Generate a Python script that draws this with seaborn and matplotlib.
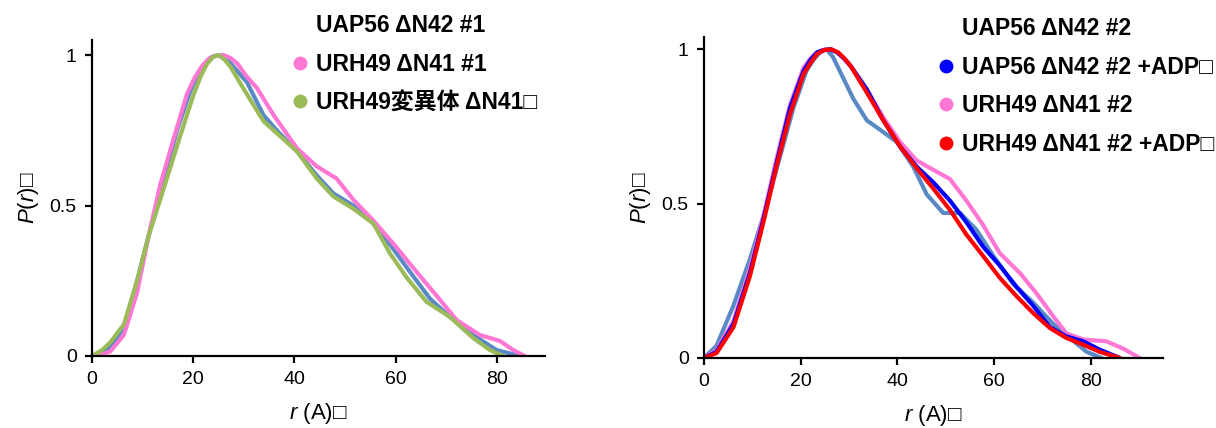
import numpy as np
import pandas as pd
import seaborn as sns
import matplotlib.pyplot as plt
from matplotlib.lines import Line2D

# Left panel: P(r) curves
left_blue_r = [0, 2, 3.6, 6.3, 8.9, 11.2, 14.1, 16.8, 19.4, 21.0, 22.5, 23.8, 25.0, 26.3, 27.5, 28.8, 30.6, 33.9, 36.5, 40.5, 44.4, 47.7, 51.6, 55.6, 58.9, 62.8, 66.8, 70.7, 75.3, 79.9, 84.5]
left_blue_p = [0, 0.01, 0.03, 0.094, 0.25, 0.40, 0.58, 0.75, 0.88, 0.935, 0.975, 0.995, 1.0, 0.99, 0.97, 0.945, 0.91, 0.80, 0.75, 0.68, 0.60, 0.54, 0.50, 0.44, 0.37, 0.28, 0.19, 0.13, 0.07, 0.02, 0]
left_pink_r = [0, 2, 3.6, 6.3, 8.9, 11.2, 13.5, 16.1, 18.75, 20.3, 21.8, 23.2, 24.6, 26.0, 27.4, 28.8, 30.5, 32.6, 35.9, 40.5, 44.4, 48.3, 51.6, 55.6, 60.2, 64.1, 68.1, 72.0, 76.6, 80.6, 83.2, 85.5]
left_pink_p = [0, 0.005, 0.015, 0.07, 0.21, 0.40, 0.57, 0.72, 0.87, 0.925, 0.965, 0.99, 0.998, 1.0, 0.99, 0.97, 0.93, 0.89, 0.80, 0.69, 0.63, 0.59, 0.52, 0.45, 0.36, 0.28, 0.20, 0.12, 0.07, 0.05, 0.02, 0]
left_green_r = [0, 2, 3.6, 6.3, 8.9, 11.2, 14.8, 17.4, 20.1, 21.5, 22.7, 23.9, 25.0, 26.2, 27.4, 28.8, 30.6, 33.9, 37.2, 40.5, 44.4, 47.7, 51.6, 55.6, 58.9, 62.2, 66.1, 70.7, 75.3, 78.6, 81.2]
left_green_p = [0, 0.02, 0.045, 0.105, 0.25, 0.40, 0.59, 0.73, 0.87, 0.93, 0.97, 0.993, 1.0, 0.985, 0.96, 0.92, 0.87, 0.78, 0.73, 0.68, 0.59, 0.53, 0.49, 0.44, 0.34, 0.26, 0.18, 0.13, 0.06, 0.02, 0]

# Right panel
right_sb_r = [0, 2.6, 6.1, 9.5, 12.3, 15.7, 18.5, 21.2, 22.6, 24.0, 25.4, 26.7, 28.1, 30.9, 33.7, 36.4, 39.9, 43.3, 46.1, 49.5, 53.0, 56.4, 59.9, 64.0, 68.1, 72.3, 75.7, 79.2, 82.3]
right_sb_p = [0, 0.04, 0.17, 0.32, 0.46, 0.65, 0.81, 0.93, 0.965, 0.99, 1.0, 0.975, 0.93, 0.84, 0.77, 0.74, 0.70, 0.62, 0.53, 0.47, 0.47, 0.415, 0.33, 0.24, 0.18, 0.11, 0.065, 0.02, 0]
right_blue_r = [0, 2.6, 6.1, 9.5, 12.3, 15.0, 17.8, 20.6, 22.0, 23.4, 24.8, 26.2, 27.6, 29.0, 30.4, 33.7, 37.1, 40.6, 44.0, 47.4, 50.9, 54.3, 57.8, 61.2, 64.7, 68.1, 71.6, 75.0, 78.5, 81.9, 86.1]
right_blue_p = [0, 0.02, 0.11, 0.275, 0.45, 0.63, 0.81, 0.93, 0.965, 0.99, 0.998, 1.0, 0.99, 0.97, 0.945, 0.87, 0.77, 0.685, 0.62, 0.57, 0.51, 0.44, 0.36, 0.30, 0.23, 0.17, 0.10, 0.07, 0.054, 0.027, 0]
right_pink_r = [0, 2.6, 6.1, 9.5, 12.3, 15.0, 17.8, 20.6, 22.0, 23.3, 24.7, 26.2, 27.6, 29.0, 30.4, 33.7, 37.1, 40.6, 44.0, 47.4, 50.9, 54.3, 57.8, 61.2, 65.4, 68.8, 72.3, 75.0, 78.5, 83.3, 86.8, 90.2]
right_pink_p = [0, 0.025, 0.12, 0.29, 0.46, 0.645, 0.82, 0.94, 0.97, 0.99, 0.998, 1.0, 0.99, 0.97, 0.945, 0.87, 0.78, 0.70, 0.64, 0.61, 0.58, 0.51, 0.43, 0.34, 0.275, 0.21, 0.135, 0.08, 0.06, 0.054, 0.03, 0]
right_red_r = [0, 2.6, 6.1, 9.5, 12.3, 15.0, 17.8, 20.6, 22.0, 23.4, 24.9, 26.4, 27.8, 29.1, 30.4, 33.7, 37.1, 40.6, 44.0, 47.4, 50.9, 54.3, 57.8, 61.2, 64.7, 68.1, 71.6, 75.0, 78.5, 81.9, 86.1]
right_red_p = [0, 0.016, 0.10, 0.265, 0.44, 0.62, 0.79, 0.92, 0.955, 0.985, 0.998, 1.0, 0.99, 0.97, 0.945, 0.86, 0.77, 0.685, 0.615, 0.55, 0.48, 0.40, 0.33, 0.26, 0.20, 0.146, 0.097, 0.065, 0.043, 0.02, 0]

left_labels = ['UAP56 ΔN42 #1', 'URH49 ΔN41 #1', 'URH49変異体 ΔN41□']
right_labels = ['UAP56 ΔN42 #2', 'UAP56 ΔN42 #2 +ADP□', 'URH49 ΔN41 #2', 'URH49 ΔN41 #2 +ADP□']

steel = '#5A8AC6'
pink = '#FF77D4'
green = '#9BBB59'
blue = '#0000FF'
red = '#FF0000'

sns.set_theme(style='ticks')
plt.rcParams['font.family'] = ['Liberation Sans', 'Noto Sans CJK JP', 'DejaVu Sans']
plt.rcParams['mathtext.fontset'] = 'custom'
plt.rcParams['mathtext.it'] = 'Liberation Sans:italic'
plt.rcParams['mathtext.rm'] = 'Liberation Sans'
plt.rcParams['text.color'] = 'black'
plt.rcParams['axes.labelcolor'] = 'black'

fig = plt.figure(figsize=(12.16, 4.28), dpi=100)
ax1 = fig.add_axes([92 / 1216, 72 / 428, 453 / 1216, 316 / 428])
ax2 = fig.add_axes([704 / 1216, 70 / 428, 459 / 1216, 321 / 428])

lw = 3.0
for r, p, c in [(left_blue_r, left_blue_p, steel),
                (left_pink_r, left_pink_p, pink),
                (left_green_r, left_green_p, green)]:
    sns.lineplot(x=r, y=p, ax=ax1, color=c, lw=lw, sort=False,
                 solid_capstyle='round', solid_joinstyle='round')

for r, p, c in [(right_sb_r, right_sb_p, steel),
                (right_pink_r, right_pink_p, pink),
                (right_blue_r, right_blue_p, blue),
                (right_red_r, right_red_p, red)]:
    sns.lineplot(x=r, y=p, ax=ax2, color=c, lw=lw, sort=False,
                 solid_capstyle='round', solid_joinstyle='round')

ax1.set_xlim(0, 89.5)
ax1.set_ylim(0, 1.05)
ax2.set_xlim(0, 95)
ax2.set_ylim(0, 1.04)

for ax in (ax1, ax2):
    sns.despine(ax=ax)
    ax.spines['left'].set_linewidth(1.6)
    ax.spines['bottom'].set_linewidth(1.6)
    ax.spines['left'].set_color('black')
    ax.spines['bottom'].set_color('black')
    ax.set_xticks([0, 20, 40, 60, 80])
    ax.set_yticks([0, 0.5, 1])
    ax.set_yticklabels(['0', '0.5', '1'])
    ax.tick_params(axis='both', direction='out', length=5, width=1.6,
                   labelsize=14, colors='black', pad=6)
    ax.set_xlabel('$r$ (A)□', fontsize=16, labelpad=9)
    ax.set_ylabel('$\\mathit{P(r)}$□', fontsize=16, labelpad=6)


def make_legend(ax, labels, colors, anchor):
    handles = []
    for lab, c in zip(labels, colors):
        handles.append(Line2D([], [], linestyle='none', marker='o', markersize=10,
                              markerfacecolor=c, markeredgecolor='none', label=lab))
    leg = ax.legend(handles=handles, loc='upper left', bbox_to_anchor=anchor,
                    bbox_transform=fig.transFigure, frameon=False, borderpad=0,
                    borderaxespad=0, handlelength=0.8, handletextpad=0.3,
                    labelspacing=0.68, prop={'weight': 'bold', 'size': 16.5})
    for t in leg.get_texts():
        t.set_color('black')
    return leg


make_legend(ax1, left_labels, ['none', pink, green], (291 / 1216, 1 - 14 / 428))
make_legend(ax2, right_labels, ['none', blue, pink, red], (937 / 1216, 1 - 17 / 428))

plt.savefig('out.png', dpi=100)
